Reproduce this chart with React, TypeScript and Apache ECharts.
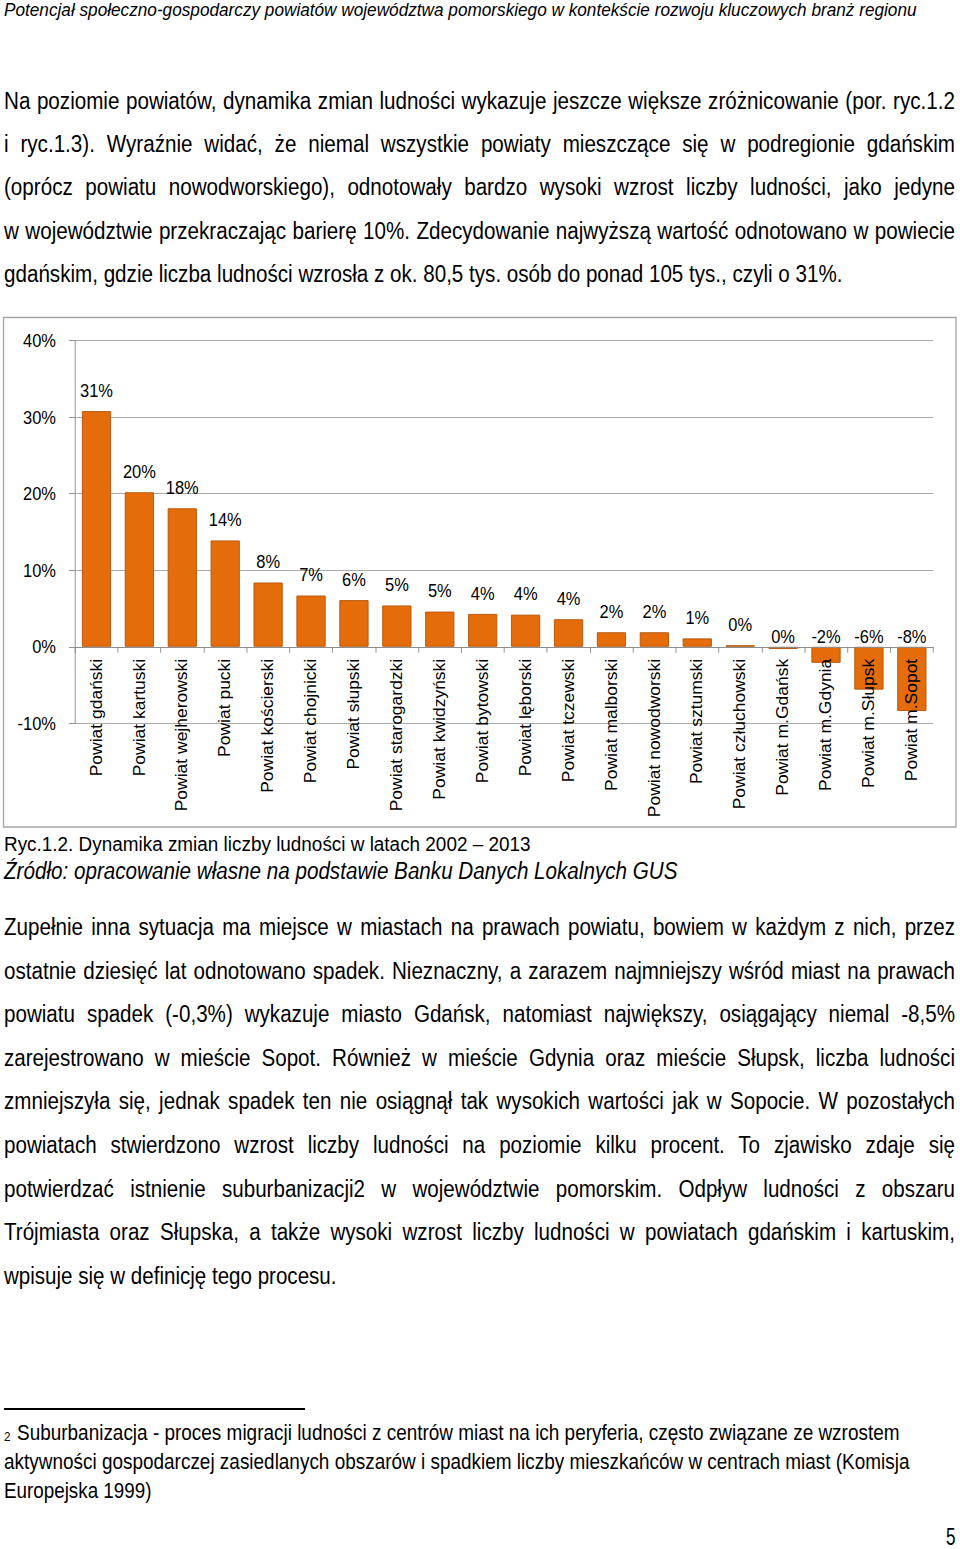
import React, { useEffect, useRef } from "react";
import * as echarts from "echarts";

// ---------- chart data ----------
const categories = [
  "Powiat gdański",
  "Powiat kartuski",
  "Powiat wejherowski",
  "Powiat pucki",
  "Powiat kościerski",
  "Powiat chojnicki",
  "Powiat słupski",
  "Powiat starogardzki",
  "Powiat kwidzyński",
  "Powiat bytowski",
  "Powiat lęborski",
  "Powiat tczewski",
  "Powiat malborski",
  "Powiat nowodworski",
  "Powiat sztumski",
  "Powiat człuchowski",
  "Powiat m.Gdańsk",
  "Powiat m.Gdynia",
  "Powiat m.Słupsk",
  "Powiat m.Sopot",
];
const values = [
  30.8, 20.2, 18.1, 13.9, 8.4, 6.7, 6.1, 5.4, 4.6, 4.3, 4.2, 3.6, 1.9, 1.9, 1.1,
  0.2, -0.3, -2.1, -5.6, -8.4,
];
const yMin = -10;
const yMax = 40;
const yStep = 10;

// ---------- page text ----------
const headerText =
  "Potencjał społeczno-gospodarczy powiatów województwa pomorskiego w kontekście rozwoju kluczowych branż regionu";
const para1 = [
  "Na poziomie powiatów, dynamika zmian ludności wykazuje jeszcze większe zróżnicowanie (por. ryc.1.2",
  "i ryc.1.3). Wyraźnie widać, że niemal wszystkie powiaty mieszczące się w podregionie gdańskim",
  "(oprócz powiatu nowodworskiego), odnotowały bardzo wysoki wzrost liczby ludności, jako jedyne",
  "w województwie przekraczając barierę 10%. Zdecydowanie najwyższą wartość odnotowano w powiecie",
  "gdańskim, gdzie liczba ludności wzrosła z ok. 80,5 tys. osób do ponad 105 tys., czyli o 31%.",
];
const captionText = "Ryc.1.2. Dynamika zmian liczby ludności w latach 2002 – 2013";
const sourceText = "Źródło: opracowanie własne na podstawie Banku Danych Lokalnych GUS";
const para2 = [
  "Zupełnie inna sytuacja ma miejsce w miastach na prawach powiatu, bowiem w każdym z nich, przez",
  "ostatnie dziesięć lat odnotowano spadek. Nieznaczny, a zarazem najmniejszy wśród miast na prawach",
  "powiatu spadek (-0,3%) wykazuje miasto Gdańsk, natomiast największy, osiągający niemal -8,5%",
  "zarejestrowano w mieście Sopot. Również w mieście Gdynia oraz mieście Słupsk, liczba ludności",
  "zmniejszyła się, jednak spadek ten nie osiągnął tak wysokich wartości jak w Sopocie. W pozostałych",
  "powiatach stwierdzono wzrost liczby ludności na poziomie kilku procent. To zjawisko zdaje się",
  "potwierdzać istnienie suburbanizacji2 w województwie pomorskim. Odpływ ludności z obszaru",
  "Trójmiasta oraz Słupska, a także wysoki wzrost liczby ludności w powiatach gdańskim i kartuskim,",
  "wpisuje się w definicję tego procesu.",
];
const footnoteMark = "2";
const footnote = [
  "Suburbanizacja - proces migracji ludności z centrów miast na ich peryferia, często związane ze wzrostem",
  "aktywności gospodarczej zasiedlanych obszarów i spadkiem liczby mieszkańców w centrach miast (Komisja",
  "Europejska 1999)",
];
const pageNumber = "5";

// ---------- styling ----------
const FONT = "'Liberation Sans', Arial, Helvetica, sans-serif";
const SX = 0.89; // horizontal compression of the chart
const BODY = 23.5;

let measureCtx: CanvasRenderingContext2D | null = null;
function measure(text: string, font: string): number {
  if (!measureCtx) {
    const c = document.createElement("canvas");
    measureCtx = c.getContext("2d");
  }
  if (!measureCtx) return text.length * 10;
  measureCtx.font = font;
  return measureCtx.measureText(text).width;
}

type Mode = "fit" | "justify" | "left";

function Line(props: {
  text: string;
  x: number;
  base: number;
  size: number;
  width: number;
  mode: Mode;
  scale?: number;
  italic?: boolean;
}) {
  const { text, x, base, size, width, mode, italic } = props;
  const font = `${italic ? "italic " : ""}${size}px ${FONT}`;
  const natural = measure(text, font);
  let s = props.scale ?? 1;
  if (mode === "fit") s = width / natural;
  if (natural * s > width - 0.5) s = (width - 0.5) / natural;
  const justify = mode === "justify";
  return (
    <div
      style={{
        position: "absolute",
        left: x,
        top: base - 0.8465 * size,
        width: justify ? width / s : natural + 4,
        fontSize: size,
        lineHeight: `${size}px`,
        fontStyle: italic ? "italic" : "normal",
        fontFamily: FONT,
        color: "#000",
        transform: `scaleX(${s})`,
        transformOrigin: "0 0",
        whiteSpace: justify ? "normal" : "nowrap",
        textAlign: justify ? "justify" : "left",
        textAlignLast: justify ? "justify" : "left",
      }}
    >
      {text}
    </div>
  );
}

function paragraphScale(lastLine: string, size: number, width: number) {
  return width / measure(lastLine, `${size}px ${FONT}`);
}

function Chart() {
  const ref = useRef<HTMLDivElement>(null);
  useEffect(() => {
    if (!ref.current) return;
    const chart = echarts.init(ref.current, undefined, { renderer: "svg" });
    const axisColor = "#8c8c8c";
    const H = 530;
    const top = 340.7 - 310;
    const bottom = H - (723.3 - 310);
    const gridH = H - top - bottom;
    const zeroOffset = -gridH * ((0 - yMin) / (yMax - yMin));
    chart.setOption({
      animation: false,
      grid: {
        left: 75 / SX,
        right: (960 - 933) / SX,
        top,
        bottom,
        containLabel: false,
        outerBoundsMode: "none",
      },
      xAxis: {
        type: "category",
        data: categories,
        offset: zeroOffset,
        z: 10,
        axisLine: { onZero: false, lineStyle: { color: axisColor, width: 1 } },
        axisTick: { show: true, length: 6, lineStyle: { color: axisColor } },
        axisLabel: {
          rotate: 90,
          interval: 0,
          margin: 12,
          fontSize: 17.5,
          color: "#000",
          fontFamily: FONT,
          hideOverlap: false,
        },
        splitLine: { show: false },
      },
      yAxis: {
        type: "value",
        min: yMin,
        max: yMax,
        interval: yStep,
        axisLine: { show: true, lineStyle: { color: axisColor, width: 1 } },
        axisTick: { show: true, length: 6 / SX, lineStyle: { color: axisColor } },
        axisLabel: {
          formatter: "{value}%",
          margin: 19 / SX,
          fontSize: 18.5,
          color: "#000",
          fontFamily: FONT,
        },
        splitLine: { show: true, lineStyle: { color: "#a6a6a6", width: 1 } },
      },
      series: [
        {
          type: "bar",
          z: 2,
          data: values.map((v) => (v < 0 ? { value: v, label: { distance: 1 } } : v)),
          barWidth: "68%",
          itemStyle: { color: "#e46c0a", borderColor: "#b7560b", borderWidth: 1 },
          label: {
            show: true,
            position: "top",
            distance: 11,
            fontSize: 18.5,
            color: "#000",
            fontFamily: FONT,
            formatter: (p: any) => `${Math.round(p.value) || 0}%`,
          },
        },
      ],
      graphic: [
        {
          type: "rect",
          silent: true,
          z: -1,
          shape: { x: 3.5 / SX, y: 7.5, width: (956 - 3.5) / SX, height: 509.5 },
          style: { fill: "none", stroke: "#a6a6a6", lineWidth: 1.5 },
        },
      ],
    });
    return () => chart.dispose();
  }, []);
  return (
    <div
      style={{
        position: "absolute",
        left: 0,
        top: 310,
        width: 960 / SX,
        height: 530,
        transform: `scaleX(${SX})`,
        transformOrigin: "0 0",
      }}
    >
      <div ref={ref} style={{ width: 960 / SX, height: 530 }} />
    </div>
  );
}

export default function App() {
  const s1 = paragraphScale(para1[para1.length - 1], BODY, 839);
  const s2 = paragraphScale(para2[para2.length - 1], BODY, 333);
  return (
    <div
      style={{
        position: "absolute",
        left: 0,
        top: 0,
        width: 960,
        height: 1549,
        overflow: "hidden",
        background: "#fff",
        fontFamily: FONT,
      }}
    >
      <Line text={headerText} x={4} base={16.5} size={19} width={913} mode="fit" italic />
      {para1.map((t, i) => (
        <Line
          key={"p1" + i}
          text={t}
          x={4}
          base={109.5 + i * 43.4}
          size={BODY}
          width={i === para1.length - 1 ? 839 : 951}
          mode={i === para1.length - 1 ? "left" : "justify"}
          scale={s1}
        />
      ))}
      <Chart />
      <Line text={captionText} x={4} base={851} size={20} width={527} mode="fit" />
      <Line text={sourceText} x={4} base={879.5} size={BODY} width={674} mode="fit" italic />
      {para2.map((t, i) => (
        <Line
          key={"p2" + i}
          text={t}
          x={4}
          base={936 + i * 43.57}
          size={BODY}
          width={i === para2.length - 1 ? 333 : 951}
          mode={i === para2.length - 1 ? "left" : "justify"}
          scale={s2}
        />
      ))}
      <div
        style={{ position: "absolute", left: 4, top: 1408, width: 301, height: 1.5, background: "#000" }}
      />
      <Line text={footnoteMark} x={4} base={1441} size={13} width={7} mode="fit" />
      <Line text={footnote[0]} x={17} base={1441} size={21.5} width={883} mode="fit" />
      <Line text={footnote[1]} x={4} base={1470} size={21.5} width={906} mode="fit" />
      <Line text={footnote[2]} x={4} base={1499} size={21.5} width={148} mode="fit" />
      <Line text={pageNumber} x={946} base={1546} size={BODY} width={10} mode="fit" />
    </div>
  );
}
